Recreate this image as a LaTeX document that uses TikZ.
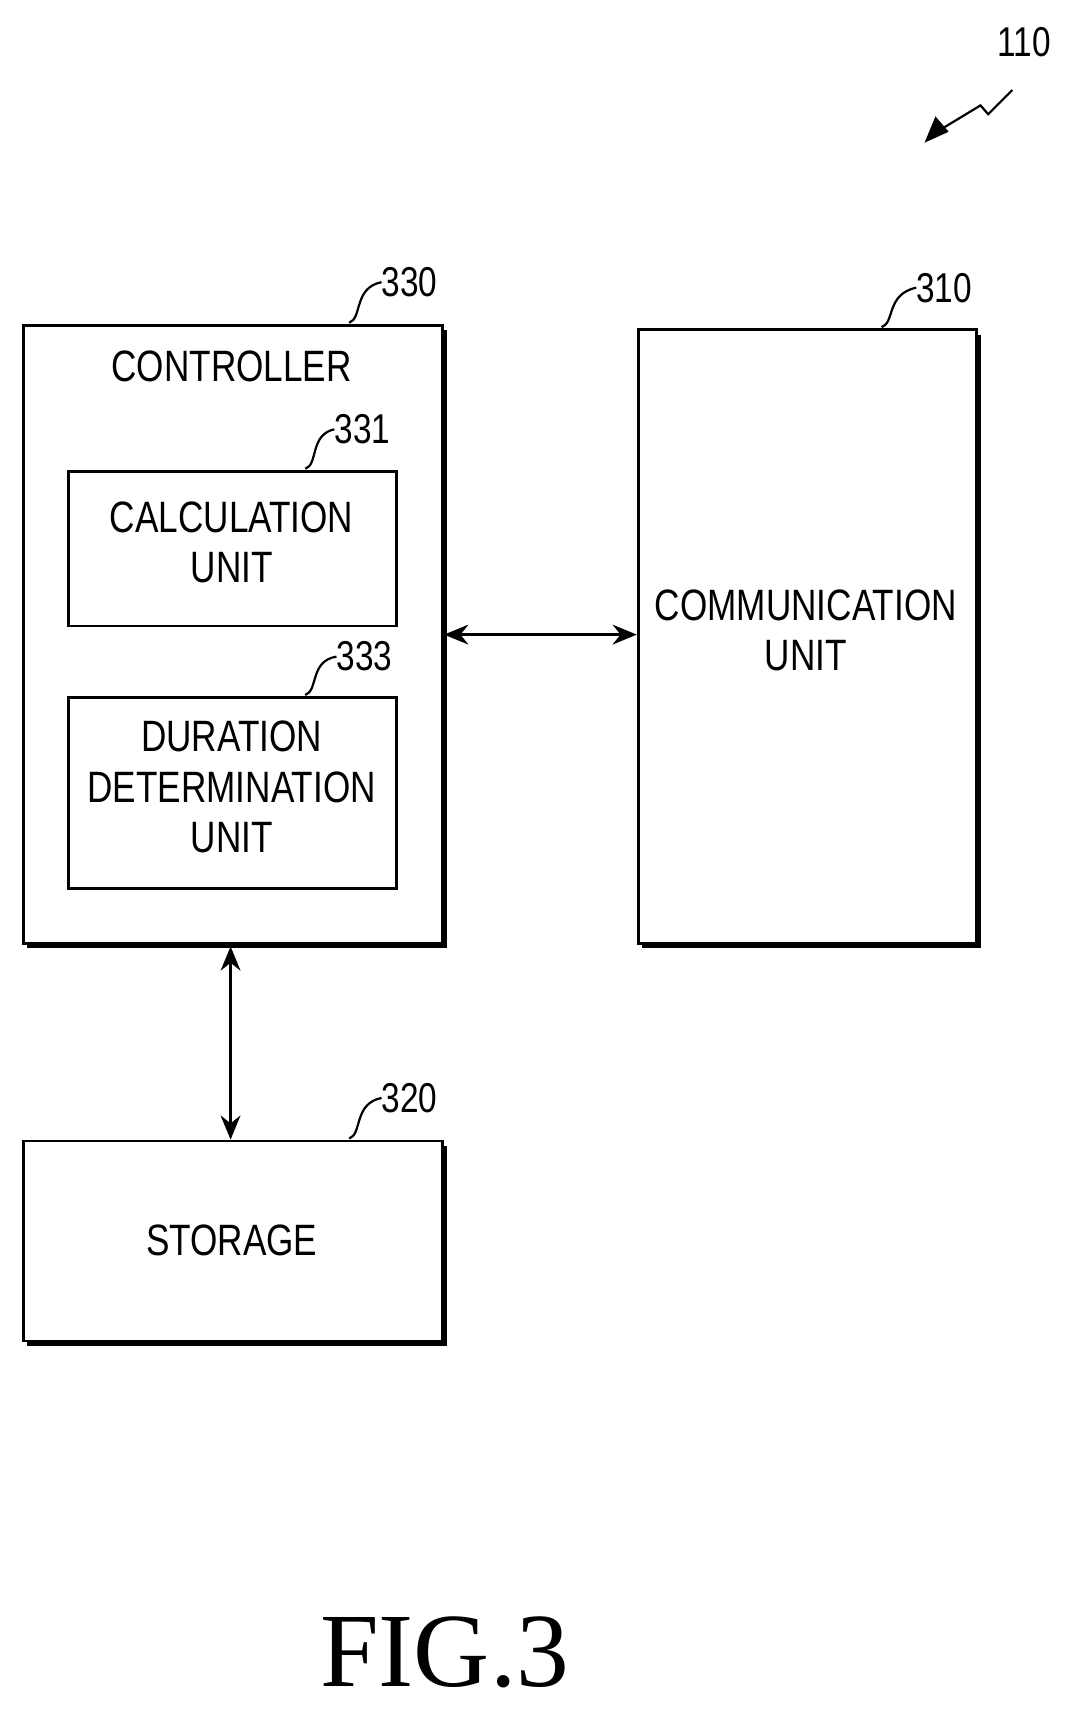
\documentclass[tikz,border=0pt]{standalone}
\usepackage{fontspec}
\setmainfont{Liberation Sans}
\newfontfamily\figfont{Liberation Serif}
\usetikzlibrary{arrows.meta}
\begin{document}
\begin{tikzpicture}[x=1pt,y=-1pt,
  box/.style={draw,line width=2.5pt,inner sep=0pt},
  lbl/.style={font=\fontsize{40}{46}\selectfont,align=center,xscale=0.8,inner sep=0pt},
  num/.style={font=\fontsize{38}{42}\selectfont,xscale=0.8,inner sep=0pt},
  lead/.style={line width=2pt},
  arr/.style={line width=2.5pt,{Stealth[length=22pt,width=18pt]}-{Stealth[length=22pt,width=18pt]}}]
\useasboundingbox (0,0) rectangle (976,1562);
\newcommand{\shbox}[5]{%
  \node[box,minimum width=#4-#2,minimum height=#5-#3,anchor=north west] (#1) at (#2,#3) {};
  \draw[line width=5pt] (#4+3,#3+6) -- (#4+3,#5+3) -- (#2+5,#5+3);}
\shbox{ctrl}{20}{295}{402}{858}
\shbox{comm}{580}{299}{888}{858}
\shbox{stor}{20}{1038}{402}{1220}
\node[box,minimum width=299,minimum height=141,anchor=north west] (calc) at (61,428) {};
\node[box,minimum width=299,minimum height=174,anchor=north west] (dur) at (61,634) {};
\node[lbl] (tctrl) at (211,334) {CONTROLLER};
\node[lbl] (tcalc) at (211,494) {CALCULATION\\UNIT};
\node[lbl] (tdur) at (211,717) {DURATION\\DETERMINATION\\UNIT};
\node[lbl] (tcomm) at (734,574) {COMMUNICATION\\UNIT};
\node[lbl] (tstor) at (211,1130) {STORAGE};
\node[num] (n330) at (373,257) {330};
\node[num] (n331) at (330,391) {331};
\node[num] (n333) at (332,598) {333};
\node[num] (n310) at (860,262) {310};
\node[num] (n320) at (373,1000) {320};
\node[num] (n110) at (933,38) {110};
\draw[lead] (318,294) .. controls (330,290) and (322,262) .. (n330.west);
\draw[lead] (278,427) .. controls (290,423) and (282,396) .. (n331.west);
\draw[lead] (278,633) .. controls (290,629) and (282,602) .. (n333.west);
\draw[lead] (803,298) .. controls (815,294) and (807,268) .. (n310.west);
\draw[lead] (318,1037) .. controls (330,1033) and (322,1005) .. (n320.west);
\coordinate (t110) at (842,130);
\draw[lead] (922,82) -- (900,104) -- (893,96) -- (860,116);
\fill (t110) -- (852,106) -- (864,120) -- cycle;
\draw[arr] (ctrl.east|-0,578) -- (comm.west|-0,578);
\draw[arr] (210,862) -- (stor.north-|210,0);
\node[font=\figfont\fontsize{96}{96}\selectfont,inner sep=0pt] (fig) at (405,1505) {FIG.3};
\end{tikzpicture}
\end{document}
